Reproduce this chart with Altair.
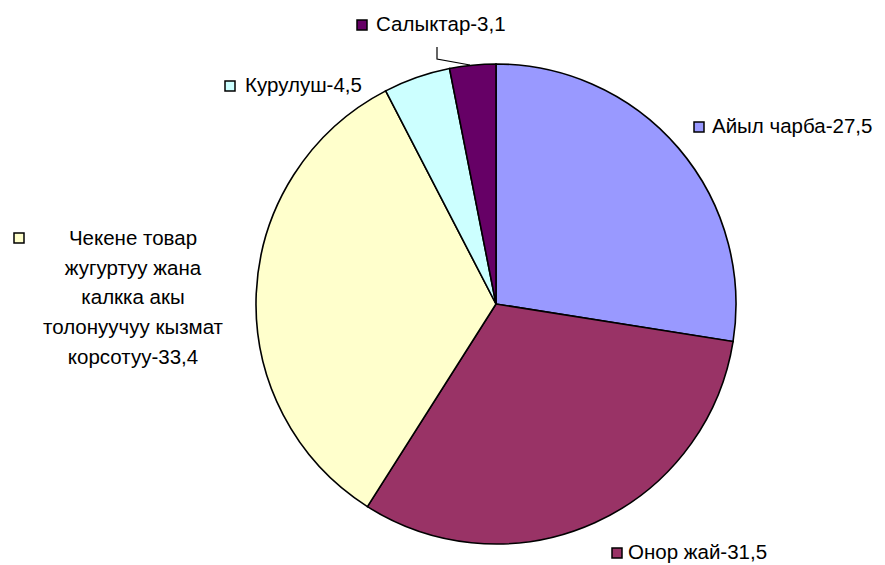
import altair as alt
import pandas as pd

# ---- data ----
categories = ["Айыл чарба", "Онор жай",
              "Чекене товар\nжугуртуу жана\nкалкка акы\nтолонуучуу кызмат\nкорсотуу",
              "Курулуш", "Салыктар"]
values = [27.5, 31.5, 33.4, 4.5, 3.1]
colors = ["#9999FF", "#993366", "#FFFFCC", "#CCFFFF", "#660066"]

# ---- layout (pixels inside the chart) ----
OFF = 8
cx, cy, R = 496 - OFF, 304 - OFF, 240
key_x = [699, 617, 19, 230, 362]
key_y = [127, 553, 238, 86, 25]
txt_x = [712, 628, 133, 245, 376]
txt_y = [127, 553, 239, 86, 25]
leader_x = [437, 437, 470]
leader_y = [47, 59, 65]
FONT = "Liberation Sans"
FS = 20.5

df = pd.DataFrame({
    "cat": categories,
    "value": values,
    "order": list(range(len(values))),
    "color": colors,
    "label": [f"{c}-{str(v).replace('.', ',')}" for c, v in zip(categories, values)],
    "kx": [v - OFF for v in key_x],
    "ky": [v - OFF for v in key_y],
    "tx": [v - OFF for v in txt_x],
    "ty": [v - OFF for v in txt_y],
})

pie = alt.Chart(df).mark_arc(outerRadius=R, stroke="black", strokeWidth=1.6).encode(
    theta=alt.Theta("value:Q", stack=True),
    order=alt.Order("order:Q"),
    color=alt.Color("color:N", scale=None),
    x=alt.value(cx),
    y=alt.value(cy),
)

keys = alt.Chart(df).mark_square(size=100, stroke="black", strokeWidth=1.5, opacity=1).encode(
    x=alt.X("kx:Q", scale=None),
    y=alt.Y("ky:Q", scale=None),
    color=alt.Color("color:N", scale=None),
)

left_labels = alt.Chart(df).transform_filter("datum.order != 2").mark_text(
    align="left", baseline="middle", font=FONT, fontSize=FS, color="black"
).encode(
    x=alt.X("tx:Q", scale=None),
    y=alt.Y("ty:Q", scale=None),
    text="label:N",
)

center_label = alt.Chart(df).transform_filter("datum.order == 2").mark_text(
    align="center", baseline="middle", font=FONT, fontSize=FS, color="black",
    lineBreak="\n", lineHeight=29.7
).encode(
    x=alt.X("tx:Q", scale=None),
    y=alt.Y("ty:Q", scale=None),
    text="label:N",
)

leader_df = pd.DataFrame({
    "x": [v - OFF for v in leader_x],
    "y": [v - OFF for v in leader_y],
    "i": list(range(len(leader_x))),
})
leader = alt.Chart(leader_df).mark_line(color="black", strokeWidth=1.2).encode(
    x=alt.X("x:Q", scale=None),
    y=alt.Y("y:Q", scale=None),
    order="i:Q",
)

chart = alt.layer(pie, leader, keys, left_labels, center_label).properties(
    width=869, height=556, padding=0,
    autosize=alt.AutoSizeParams(type="none"),
    background="white",
).configure_view(stroke=None)

chart.save("out.html", embed_options={"renderer": "svg", "actions": False})
